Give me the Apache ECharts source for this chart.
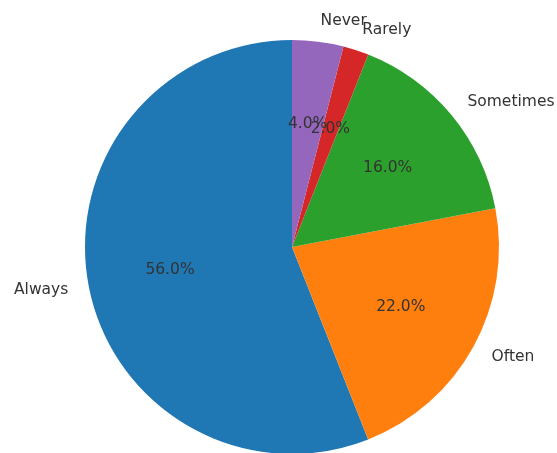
<!DOCTYPE html>
<html>
<head>
<meta charset="utf-8">
<script src="https://cdn.jsdelivr.net/npm/echarts@6/dist/echarts.min.js"></script>
<style>html,body{margin:0;padding:0;background:#fff}#c{width:557px;height:453px}</style>
</head>
<body>
<div id="c"></div>
<script>
const categories = ['Always', 'Often', 'Sometimes', 'Rarely', 'Never'];
const values = [56, 22, 16, 2, 4];
const colors = ['#1f77b4', '#ff7f0e', '#2ca02c', '#d62728', '#9467bd'];

const R = 207;
const center = [292, 247];
const font = 'DejaVu Sans';
const textColor = '#333';

const data = categories.map((c, i) => ({ name: c, value: values[i], itemStyle: { color: colors[i] } }));
const total = values.reduce((a, b) => a + b, 0);

const chart = echarts.init(document.getElementById('c'), null, { renderer: 'canvas' });
chart.setOption({
  animation: false,
  backgroundColor: '#fff',
  series: [
    {
      type: 'pie',
      center: center,
      radius: [0, R],
      startAngle: 90,
      clockwise: false,
      avoidLabelOverlap: false,
      silent: true,
      itemStyle: { borderWidth: 0 },
      label: {
        show: true,
        position: 'outside',
        formatter: '{b}',
        fontFamily: font,
        fontSize: 15.5,
        color: textColor,
        distanceToLabelLine: 0
      },
      labelLine: { show: false, length: R * 0.1, length2: 0 },
      labelLayout: { hideOverlap: false },
      data: data
    },
    {
      type: 'pie',
      center: center,
      radius: [35.4, R],
      startAngle: 90,
      clockwise: false,
      avoidLabelOverlap: false,
      silent: true,
      z: 5,
      itemStyle: { color: 'rgba(0,0,0,0)', borderWidth: 0 },
      label: {
        show: true,
        position: 'inside',
        formatter: p => (p.value / total * 100).toFixed(1) + '%',
        fontFamily: font,
        fontSize: 15.5,
        color: textColor
      },
      labelLine: { show: false },
      labelLayout: { hideOverlap: false },
      data: categories.map((c, i) => ({ name: c, value: values[i] }))
    }
  ]
});
</script>
</body>
</html>
